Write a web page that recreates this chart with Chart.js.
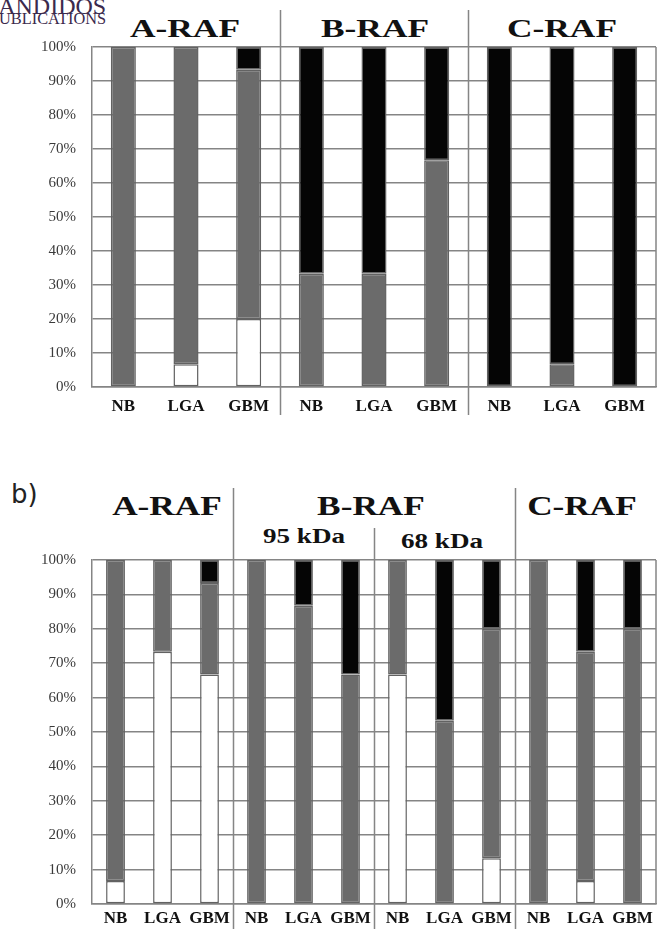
<!DOCTYPE html>
<html>
<head>
<meta charset="utf-8">
<script src="https://cdn.jsdelivr.net/npm/chart.js@4"></script>
<style>
  body { margin: 0; width: 659px; height: 929px; position: relative; background: #fff; overflow: hidden; font-family: "Liberation Serif", serif; }
  canvas { position: absolute; left: 0; }
  .hd { position: absolute; font-weight: bold; line-height: 1; white-space: nowrap; color: #111; }
  .logo { position: absolute; color: #3b2a4d; line-height: 1; white-space: nowrap; }
</style>
</head>
<body>
<div class="logo" style="left:-13px;top:-6px;font-size:24px;">PANDIDOS</div>
<div class="logo" style="left:-10px;top:11px;font-size:16px;transform:scaleX(1.02);transform-origin:left;">PUBLICATIONS</div>

<div class="hd" style="left:185px;top:16px;font-size:26px;transform:translateX(-50%) scaleX(1.36);">A-RAF</div>
<div class="hd" style="left:375px;top:16px;font-size:26px;transform:translateX(-50%) scaleX(1.36);">B-RAF</div>
<div class="hd" style="left:562px;top:16px;font-size:26px;transform:translateX(-50%) scaleX(1.36);">C-RAF</div>

<div style="position:absolute;left:11px;top:481px;font-family:'DejaVu Sans',sans-serif;font-size:26px;line-height:1;color:#222;">b)</div>
<div class="hd" style="left:167px;top:492px;font-size:28px;transform:translateX(-50%) scaleX(1.26);">A-RAF</div>
<div class="hd" style="left:371px;top:492px;font-size:28px;transform:translateX(-50%) scaleX(1.26);">B-RAF</div>
<div class="hd" style="left:582px;top:492px;font-size:28px;transform:translateX(-50%) scaleX(1.26);">C-RAF</div>
<div class="hd" style="left:304px;top:526px;font-size:21px;transform:translateX(-50%) scaleX(1.29);">95 kDa</div>
<div class="hd" style="left:442px;top:531px;font-size:21px;transform:translateX(-50%) scaleX(1.29);">68 kDa</div>

<canvas id="chartA" width="659" height="430" style="top:0;"></canvas>
<canvas id="chartB" width="659" height="489" style="top:440px;"></canvas>

<script>
// panel a
const topLabels = ['NB', 'LGA', 'GBM', 'NB', 'LGA', 'GBM', 'NB', 'LGA', 'GBM'];
const topWhite = [null, 6.7, 20, null, null, null, null, null, null];
const topGray = [100, 93.3, 73.3, 33.3, 33.3, 66.7, null, 6.7, null];
const topBlack = [null, null, 6.7, 66.7, 66.7, 33.3, 100, 93.3, 100];

// panel b
const botLabels = ['NB', 'LGA', 'GBM', 'NB', 'LGA', 'GBM', 'NB', 'LGA', 'GBM', 'NB', 'LGA', 'GBM'];
const botWhite = [6.7, 73.3, 66.7, null, null, null, 66.7, null, 13.3, null, 6.7, null];
const botGray = [93.3, 26.7, 26.6, 100, 86.7, 66.7, 33.3, 53.3, 66.7, 100, 66.6, 80];
const botBlack = [null, null, 6.7, null, 13.3, 33.3, null, 46.7, 20, null, 26.7, 20];

const lineGray = '#858585';
const serif = "'Liberation Serif', 'Times New Roman', serif";

// vertical separators between groups + right frame line
const separators = {
  id: 'separators',
  afterDraw(chart, args, opts) {
    const { ctx, chartArea } = chart;
    const x = chart.scales.x;
    ctx.save();
    ctx.strokeStyle = lineGray;
    ctx.lineWidth = 1.5;
    ctx.beginPath();
    ctx.moveTo(chartArea.right, chartArea.top);
    ctx.lineTo(chartArea.right, chartArea.bottom);
    opts.lines.forEach(l => {
      const px = Math.round(x.getPixelForValue(l.at)) + 0.5;
      ctx.moveTo(px, l.from);
      ctx.lineTo(px, l.to);
    });
    ctx.stroke();
    ctx.restore();
  }
};

function makeChart(id, labels, white, gray, black, cfg) {
  const seg = (data, color) => ({
    data: data,
    backgroundColor: color,
    borderColor: '#626262',
    borderWidth: 1.5,
    borderSkipped: false,
    barPercentage: 0.4,
    categoryPercentage: 1
  });
  return new Chart(document.getElementById(id), {
    type: 'bar',
    data: {
      labels: labels,
      datasets: [seg(white, '#ffffff'), seg(gray, '#6b6b6b'), seg(black, '#050505')]
    },
    options: {
      responsive: false,
      animation: false,
      layout: { padding: { top: cfg.top, right: 3, left: 0, bottom: 0 } },
      plugins: {
        legend: { display: false },
        tooltip: { enabled: false },
        separators: { lines: cfg.lines }
      },
      scales: {
        x: {
          stacked: true,
          grid: { display: false, drawTicks: false, tickLength: 0 },
          border: { color: lineGray, width: 1.5 },
          ticks: { color: '#111', padding: cfg.xPad, font: { family: serif, size: 17, weight: 'bold' } },
          afterFit: s => { s.height = cfg.xHeight; }
        },
        y: {
          stacked: true,
          min: 0,
          max: 100,
          grid: { color: lineGray, lineWidth: 1.5, drawTicks: false },
          border: { color: lineGray, width: 1.5 },
          ticks: {
            stepSize: 10,
            padding: 16,
            color: '#3a3a3a',
            font: { family: serif, size: 15 },
            callback: v => v + '%'
          },
          afterFit: s => { s.width = 92; }
        }
      }
    },
    plugins: [separators]
  });
}

makeChart('chartA', topLabels, topWhite, topGray, topBlack, {
  top: 47, xHeight: 43, xPad: 9,
  lines: [{ at: 2.5, from: 10, to: 415 }, { at: 5.5, from: 10, to: 415 }]
});

makeChart('chartB', botLabels, botWhite, botGray, botBlack, {
  top: 120, xHeight: 25, xPad: 4,
  lines: [{ at: 2.5, from: 48, to: 489 }, { at: 5.5, from: 88, to: 489 }, { at: 8.5, from: 48, to: 489 }]
});
</script>
</body>
</html>
